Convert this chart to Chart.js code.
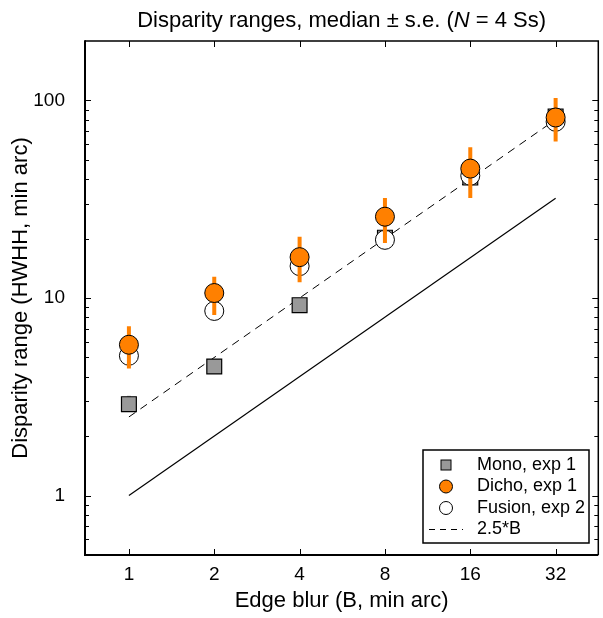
<!DOCTYPE html>
<html><head><meta charset="utf-8">
<script src="https://cdn.jsdelivr.net/npm/chart.js@4/dist/chart.umd.min.js"></script>
<style>
html,body{margin:0;padding:0;overflow:hidden;background:#fff;width:603px;height:618px}
#wrap{width:610px;height:618px;position:relative}
</style>
</head><body><div id="wrap"><canvas id="c" width="610" height="618"></canvas></div>
<script>
const blur = [1, 2, 4, 8, 16, 32];
const monoMedian = [2.9, 4.5, 9.2, 20.2, 40.7, 83];
const monoLow = [2.7, 4.2, 8.7, 19.0, 38.0, 79];
const monoHigh = [3.2, 4.9, 9.7, 21.5, 43.0, 87];
const dichoMedian = [5.8, 10.6, 16.1, 25.8, 45.2, 82];
const dichoLow = [4.4, 8.2, 12.0, 19.0, 32.1, 62];
const dichoHigh = [7.2, 12.8, 20.4, 32.1, 58, 103];
const fusionMedian = [5.1, 8.6, 14.5, 19.7, 41.6, 78];
const modelFactor = 2.5;
const lineEnds = [1, 32];
const xTickValues = [1, 2, 4, 8, 16, 32];
const yTickValues = [1, 10, 100];
const yMinorValues = [0.6, 0.7, 0.8, 0.9, 2, 3, 4, 5, 6, 7, 8, 9, 20, 30, 40, 50, 60, 70, 80, 90];
const legendLabels = ['Mono, exp 1', 'Dicho, exp 1', 'Fusion, exp 2', '2.5*B'];

const FONT = '"Liberation Sans", Arial, Helvetica, sans-serif';
const ORANGE = '#FF8000';

const pts = (ys) => blur.map((b, i) => ({x: b, y: ys[i]}));

const errorBars = {
  id: 'errorBars',
  beforeDatasetDraw(chart, args) {
    const ds = chart.data.datasets[args.index];
    if (!ds.errLow) return;
    const {ctx, scales: {x, y}, chartArea} = chart;
    ctx.save();
    ctx.beginPath();
    ctx.rect(chartArea.left, chartArea.top, chartArea.right - chartArea.left, chartArea.bottom - chartArea.top);
    ctx.clip();
    ctx.strokeStyle = ds.errColor;
    ctx.lineWidth = ds.errWidth;
    ds.data.forEach((p, i) => {
      const px = x.getPixelForValue(p.x);
      ctx.beginPath();
      ctx.moveTo(px, y.getPixelForValue(ds.errLow[i]));
      ctx.lineTo(px, y.getPixelForValue(ds.errHigh[i]));
      ctx.stroke();
    });
    ctx.restore();
  }
};

const frame = {
  id: 'frame',
  afterDraw(chart) {
    const {ctx, chartArea: a, scales: {x, y}} = chart;
    ctx.save();
    ctx.strokeStyle = '#000';
    ctx.lineWidth = 1.5;
    ctx.beginPath();
    ctx.moveTo(a.left, a.top); ctx.lineTo(a.right, a.top); ctx.lineTo(a.right, a.bottom);
    ctx.stroke();
    ctx.lineWidth = 2;
    ctx.beginPath();
    ctx.moveTo(a.left, a.top - 0.75); ctx.lineTo(a.left, a.bottom); ctx.lineTo(a.right, a.bottom);
    ctx.stroke();
    ctx.lineWidth = 1;
    ctx.beginPath();
    xTickValues.forEach(v => {
      const px = Math.round(x.getPixelForValue(v)) + 0.5;
      ctx.moveTo(px, a.bottom); ctx.lineTo(px, a.bottom - 6);
      ctx.moveTo(px, a.top); ctx.lineTo(px, a.top + 6);
    });
    yTickValues.forEach(v => {
      const py = Math.round(y.getPixelForValue(v)) + 0.5;
      ctx.moveTo(a.left, py); ctx.lineTo(a.left + 6, py);
      ctx.moveTo(a.right, py); ctx.lineTo(a.right - 6, py);
    });
    yMinorValues.forEach(v => {
      const py = Math.round(y.getPixelForValue(v)) + 0.5;
      ctx.moveTo(a.left, py); ctx.lineTo(a.left + 4, py);
      ctx.moveTo(a.right, py); ctx.lineTo(a.right - 4, py);
    });
    ctx.stroke();

    const parts = [
      ['Disparity ranges, median \u00b1 s.e. (', 'normal'],
      ['N', 'italic'],
      [' = 4 Ss)', 'normal']
    ];
    const size = 22;
    let total = 0;
    parts.forEach(p => { ctx.font = p[1] + ' ' + size + 'px ' + FONT; total += ctx.measureText(p[0]).width; });
    let tx = (a.left + a.right) / 2 - total / 2;
    ctx.fillStyle = '#000';
    ctx.textBaseline = 'alphabetic';
    ctx.textAlign = 'left';
    parts.forEach(p => {
      ctx.font = p[1] + ' ' + size + 'px ' + FONT;
      ctx.fillText(p[0], tx, 27);
      tx += ctx.measureText(p[0]).width;
    });

    const bx = 423, by = 450, bw = 166, bh = 93;
    ctx.fillStyle = '#fff';
    ctx.fillRect(bx, by, bw, bh);
    ctx.lineWidth = 1.5;
    ctx.strokeRect(bx, by, bw, bh);
    const rows = [465, 486.5, 508, 529];
    const mx = 446, tx0 = 477;
    ctx.lineWidth = 1;
    ctx.fillStyle = '#999';
    ctx.fillRect(mx - 5, rows[0] - 5, 10, 10);
    ctx.strokeRect(mx - 5, rows[0] - 5, 10, 10);
    ctx.beginPath(); ctx.arc(mx, rows[1], 6.5, 0, Math.PI * 2);
    ctx.fillStyle = ORANGE; ctx.fill(); ctx.stroke();
    ctx.beginPath(); ctx.arc(mx, rows[2], 6.5, 0, Math.PI * 2);
    ctx.fillStyle = '#fff'; ctx.fill(); ctx.stroke();
    ctx.setLineDash([6, 5]);
    ctx.beginPath(); ctx.moveTo(429, rows[3] + 0.5); ctx.lineTo(463, rows[3] + 0.5); ctx.stroke();
    ctx.setLineDash([]);
    ctx.fillStyle = '#000';
    ctx.font = '18px ' + FONT;
    ctx.textBaseline = 'middle';
    legendLabels.forEach((t, i) => ctx.fillText(t, tx0, rows[i]));
    ctx.restore();
  }
};

new Chart(document.getElementById('c'), {
  type: 'scatter',
  data: {
    datasets: [
      {label: legendLabels[1], data: pts(dichoMedian), order: 0, pointStyle: 'circle', pointRadius: 9.5, pointHoverRadius: 9.5,
       backgroundColor: ORANGE, borderColor: '#000', borderWidth: 1, errLow: dichoLow, errHigh: dichoHigh, errColor: ORANGE, errWidth: 4},
      {label: legendLabels[2], data: pts(fusionMedian), order: 1, pointStyle: 'circle', pointRadius: 9.5, pointHoverRadius: 9.5,
       backgroundColor: '#fff', borderColor: '#000', borderWidth: 1},
      {label: legendLabels[0], data: pts(monoMedian), order: 2, pointStyle: 'rect', pointRadius: 10.5, pointHoverRadius: 10.5,
       backgroundColor: '#999', borderColor: '#000', borderWidth: 1.2, errLow: monoLow, errHigh: monoHigh, errColor: '#aaa', errWidth: 4},
      {label: legendLabels[3], data: lineEnds.map(b => ({x: b, y: modelFactor * b})), order: 3, showLine: true,
       borderColor: '#000', borderWidth: 1, borderDash: [8, 6], pointRadius: 0, fill: false},
      {label: 'B', data: lineEnds.map(b => ({x: b, y: b})), order: 4, showLine: true,
       borderColor: '#000', borderWidth: 1.2, pointRadius: 0, fill: false}
    ]
  },
  options: {
    responsive: false,
    animation: false,
    events: [],
    layout: {padding: {top: 41, right: 4, left: 0, bottom: 0}},
    plugins: {legend: {display: false}, tooltip: {enabled: false}, title: {display: false}},
    scales: {
      x: {
        type: 'logarithmic', min: 1 / Math.SQRT2, max: 32 * Math.SQRT2,
        afterBuildTicks: s => { s.ticks = xTickValues.map(v => ({value: v})); },
        afterFit: s => { s.height = 63; },
        grid: {display: false}, border: {display: false},
        ticks: {autoSkip: false, maxRotation: 0, padding: 0, color: '#000', font: {family: FONT, size: 19},
                callback: v => String(v)},
        title: {display: true, text: 'Edge blur (B, min arc)', color: '#000', font: {family: FONT, size: 22},
                padding: {top: 0, bottom: 4}}
      },
      y: {
        type: 'logarithmic', min: 0.5, max: 200,
        afterBuildTicks: s => { s.ticks = yTickValues.map(v => ({value: v})); },
        afterFit: s => { s.width = 85; },
        grid: {display: false}, border: {display: false},
        ticks: {autoSkip: false, padding: 12, color: '#000', font: {family: FONT, size: 19},
                callback: v => String(v)},
        title: {display: true, text: 'Disparity range (HWHH, min arc)', color: '#000', font: {family: FONT, size: 22},
                padding: {top: 8, bottom: 0}}
      }
    }
  },
  plugins: [errorBars, frame]
});
</script>
</body></html>
